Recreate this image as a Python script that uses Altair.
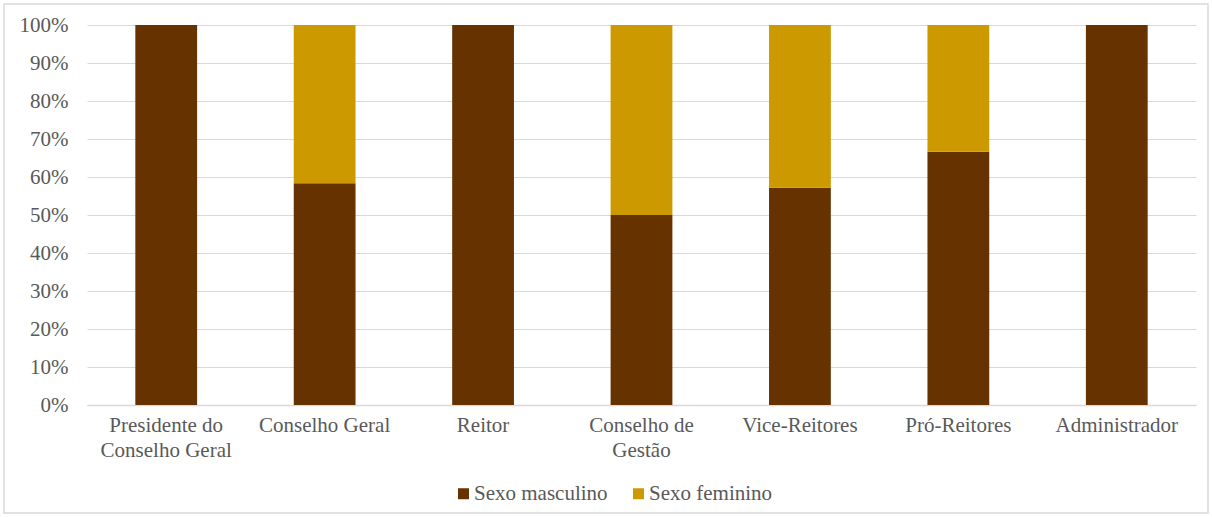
import altair as alt
import pandas as pd

# Governance bodies (line breaks mark wrapped axis labels)
categories = [
    "Presidente do\nConselho Geral",
    "Conselho Geral",
    "Reitor",
    "Conselho de\nGestão",
    "Vice-Reitores",
    "Pró-Reitores",
    "Administrador",
]
series = ["Sexo masculino", "Sexo feminino"]
masculino = [1.0, 0.5833, 1.0, 0.50, 0.5714, 0.6667, 1.0]
feminino = [0.0, 0.4167, 0.0, 0.50, 0.4286, 0.3333, 0.0]
colors = ["#663300", "#CC9900"]

rows = []
for i, cat in enumerate(categories):
    rows.append({"cat": cat, "serie": series[0], "valor": masculino[i], "ordem": 0})
    rows.append({"cat": cat, "serie": series[1], "valor": feminino[i], "ordem": 1})
df = pd.DataFrame(rows)

FONT = "Times New Roman, Liberation Serif, DejaVu Serif, serif"
TXT = "#595959"
FS = 21
W, H = 1109, 380

bars = alt.Chart(df).mark_bar().encode(
    x=alt.X(
        "cat:N",
        sort=categories,
        scale=alt.Scale(paddingInner=0.61, paddingOuter=0.305),
        axis=alt.Axis(
            title=None,
            labelAngle=0,
            labelExpr="split(datum.label, '\\n')",
            labelFont=FONT,
            labelFontSize=FS,
            labelColor=TXT,
            labelPadding=9,
            labelLineHeight=25,
            ticks=False,
            domainColor="#d9d9d9",
            domainWidth=1.5,
            grid=False,
        ),
    ),
    y=alt.Y(
        "valor:Q",
        stack="zero",
        scale=alt.Scale(domain=[0, 1], nice=False),
        axis=alt.Axis(
            title=None,
            format=".0%",
            values=[i / 10 for i in range(11)],
            labelFont=FONT,
            labelFontSize=FS,
            labelColor=TXT,
            labelPadding=19,
            ticks=False,
            domain=False,
            gridColor="#d9d9d9",
            gridWidth=1.2,
        ),
    ),
    color=alt.Color(
        "serie:N",
        sort=series,
        scale=alt.Scale(domain=series, range=colors),
        legend=alt.Legend(
            title=None,
            orient="none",
            direction="horizontal",
            legendX=366,
            legendY=458,
            symbolType="square",
            symbolSize=121,
            symbolStrokeWidth=0,
            labelFont=FONT,
            labelFontSize=FS,
            labelColor=TXT,
            columnPadding=20,
            labelOffset=0,
        ),
    ),
    order=alt.Order("ordem:Q", sort="ascending"),
)

# outer frame around the whole figure
frame = alt.Chart(pd.DataFrame({"k": [0]})).mark_rect(
    fill=None, stroke="#d9d9d9", strokeWidth=1.5, clip=False
).encode(
    x=alt.value(-83),
    x2=alt.value(1121),
    y=alt.value(-21),
    y2=alt.value(488),
)

chart = (
    alt.layer(frame, bars)
    .properties(
        width=W,
        height=H,
        padding={"left": 87, "top": 25, "right": 16, "bottom": 112},
        autosize=alt.AutoSizeParams(type="none"),
        background="white",
    )
    .configure(font=FONT)
    .configure_view(stroke=None)
)

chart.save("out.html", embed_options={"renderer": "svg", "actions": False})
